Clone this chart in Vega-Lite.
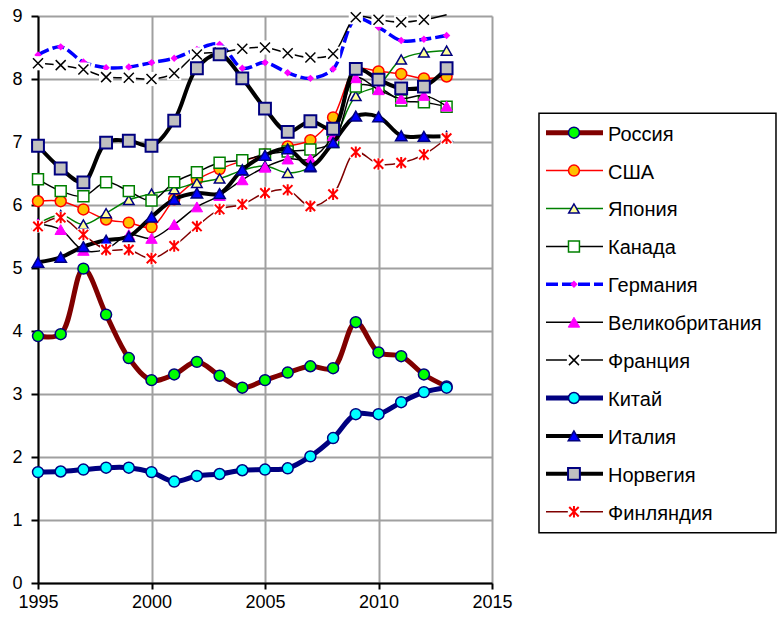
{
  "$schema": "https://vega.github.io/schema/vega-lite/v6.json",
  "padding": {"left": 11, "top": 7, "right": 0, "bottom": 0},
  "background": "white",
  "config": {"font": "Liberation Sans", "view": {"stroke": null}},
  "bounds": "flush",
  "spacing": 45,
  "datasets": {
    "series": [
      {"c":"Россия","year":1995,"v":3.92},{"c":"Россия","year":1996,"v":3.95},{"c":"Россия","year":1997,"v":4.99},{"c":"Россия","year":1998,"v":4.26},{"c":"Россия","year":1999,"v":3.57},{"c":"Россия","year":2000,"v":3.22},{"c":"Россия","year":2001,"v":3.31},{"c":"Россия","year":2002,"v":3.51},{"c":"Россия","year":2003,"v":3.29},{"c":"Россия","year":2004,"v":3.10},{"c":"Россия","year":2005,"v":3.22},{"c":"Россия","year":2006,"v":3.34},{"c":"Россия","year":2007,"v":3.44},{"c":"Россия","year":2008,"v":3.41},{"c":"Россия","year":2009,"v":4.14},{"c":"Россия","year":2010,"v":3.66},{"c":"Россия","year":2011,"v":3.60},{"c":"Россия","year":2012,"v":3.31},{"c":"Россия","year":2013,"v":3.12},
      {"c":"США","year":1995,"v":6.06},{"c":"США","year":1996,"v":6.06},{"c":"США","year":1997,"v":5.93},{"c":"США","year":1998,"v":5.77},{"c":"США","year":1999,"v":5.72},{"c":"США","year":2000,"v":5.65},{"c":"США","year":2001,"v":6.09},{"c":"США","year":2002,"v":6.40},{"c":"США","year":2003,"v":6.57},{"c":"США","year":2004,"v":6.70},{"c":"США","year":2005,"v":6.80},{"c":"США","year":2006,"v":6.93},{"c":"США","year":2007,"v":7.03},{"c":"США","year":2008,"v":7.39},{"c":"США","year":2009,"v":8.15},{"c":"США","year":2010,"v":8.12},{"c":"США","year":2011,"v":8.08},{"c":"США","year":2012,"v":8.01},{"c":"США","year":2013,"v":8.04},
      {"c":"Япония","year":1995,"v":5.70},{"c":"Япония","year":1996,"v":5.84},{"c":"Япония","year":1997,"v":5.69},{"c":"Япония","year":1998,"v":5.87},{"c":"Япония","year":1999,"v":6.08},{"c":"Япония","year":2000,"v":6.18},{"c":"Япония","year":2001,"v":6.25},{"c":"Япония","year":2002,"v":6.35},{"c":"Япония","year":2003,"v":6.42},{"c":"Япония","year":2004,"v":6.55},{"c":"Япония","year":2005,"v":6.62},{"c":"Япония","year":2006,"v":6.51},{"c":"Япония","year":2007,"v":6.60},{"c":"Япония","year":2008,"v":7.00},{"c":"Япония","year":2009,"v":7.73},{"c":"Япония","year":2010,"v":7.90},{"c":"Япония","year":2011,"v":8.31},{"c":"Япония","year":2012,"v":8.42},{"c":"Япония","year":2013,"v":8.45},
      {"c":"Канада","year":1995,"v":6.41},{"c":"Канада","year":1996,"v":6.22},{"c":"Канада","year":1997,"v":6.14},{"c":"Канада","year":1998,"v":6.36},{"c":"Канада","year":1999,"v":6.22},{"c":"Канада","year":2000,"v":6.07},{"c":"Канада","year":2001,"v":6.36},{"c":"Канада","year":2002,"v":6.52},{"c":"Канада","year":2003,"v":6.67},{"c":"Канада","year":2004,"v":6.71},{"c":"Канада","year":2005,"v":6.80},{"c":"Канада","year":2006,"v":6.85},{"c":"Канада","year":2007,"v":6.88},{"c":"Канада","year":2008,"v":7.00},{"c":"Канада","year":2009,"v":7.88},{"c":"Канада","year":2010,"v":7.86},{"c":"Канада","year":2011,"v":7.66},{"c":"Канада","year":2012,"v":7.63},{"c":"Канада","year":2013,"v":7.56},
      {"c":"Германия","year":1995,"v":8.38},{"c":"Германия","year":1996,"v":8.51},{"c":"Германия","year":1997,"v":8.27},{"c":"Германия","year":1998,"v":8.18},{"c":"Германия","year":1999,"v":8.19},{"c":"Германия","year":2000,"v":8.26},{"c":"Германия","year":2001,"v":8.33},{"c":"Германия","year":2002,"v":8.47},{"c":"Германия","year":2003,"v":8.55},{"c":"Германия","year":2004,"v":8.17},{"c":"Германия","year":2005,"v":8.26},{"c":"Германия","year":2006,"v":8.10},{"c":"Германия","year":2007,"v":8.01},{"c":"Германия","year":2008,"v":8.16},{"c":"Германия","year":2009,"v":8.95},{"c":"Германия","year":2010,"v":8.82},{"c":"Германия","year":2011,"v":8.61},{"c":"Германия","year":2012,"v":8.63},{"c":"Германия","year":2013,"v":8.69},
      {"c":"Великобритания","year":1995,"v":5.70},{"c":"Великобритания","year":1996,"v":5.61},{"c":"Великобритания","year":1997,"v":5.28},{"c":"Великобритания","year":1998,"v":5.30},{"c":"Великобритания","year":1999,"v":5.53},{"c":"Великобритания","year":2000,"v":5.47},{"c":"Великобритания","year":2001,"v":5.69},{"c":"Великобритания","year":2002,"v":5.97},{"c":"Великобритания","year":2003,"v":6.15},{"c":"Великобритания","year":2004,"v":6.40},{"c":"Великобритания","year":2005,"v":6.60},{"c":"Великобритания","year":2006,"v":6.73},{"c":"Великобритания","year":2007,"v":6.73},{"c":"Великобритания","year":2008,"v":7.10},{"c":"Великобритания","year":2009,"v":8.02},{"c":"Великобритания","year":2010,"v":7.83},{"c":"Великобритания","year":2011,"v":7.69},{"c":"Великобритания","year":2012,"v":7.74},{"c":"Великобритания","year":2013,"v":7.57},
      {"c":"Франция","year":1995,"v":8.25},{"c":"Франция","year":1996,"v":8.22},{"c":"Франция","year":1997,"v":8.15},{"c":"Франция","year":1998,"v":8.03},{"c":"Франция","year":1999,"v":8.02},{"c":"Франция","year":2000,"v":8.00},{"c":"Франция","year":2001,"v":8.09},{"c":"Франция","year":2002,"v":8.39},{"c":"Франция","year":2003,"v":8.42},{"c":"Франция","year":2004,"v":8.48},{"c":"Франция","year":2005,"v":8.50},{"c":"Франция","year":2006,"v":8.41},{"c":"Франция","year":2007,"v":8.34},{"c":"Франция","year":2008,"v":8.40},{"c":"Франция","year":2009,"v":8.98},{"c":"Франция","year":2010,"v":8.94},{"c":"Франция","year":2011,"v":8.90},{"c":"Франция","year":2012,"v":8.94},{"c":"Франция","year":2013,"v":9.02},
      {"c":"Китай","year":1995,"v":1.76},{"c":"Китай","year":1996,"v":1.77},{"c":"Китай","year":1997,"v":1.80},{"c":"Китай","year":1998,"v":1.83},{"c":"Китай","year":1999,"v":1.83},{"c":"Китай","year":2000,"v":1.76},{"c":"Китай","year":2001,"v":1.61},{"c":"Китай","year":2002,"v":1.70},{"c":"Китай","year":2003,"v":1.73},{"c":"Китай","year":2004,"v":1.79},{"c":"Китай","year":2005,"v":1.80},{"c":"Китай","year":2006,"v":1.82},{"c":"Китай","year":2007,"v":2.01},{"c":"Китай","year":2008,"v":2.30},{"c":"Китай","year":2009,"v":2.68},{"c":"Китай","year":2010,"v":2.68},{"c":"Китай","year":2011,"v":2.87},{"c":"Китай","year":2012,"v":3.03},{"c":"Китай","year":2013,"v":3.10},
      {"c":"Италия","year":1995,"v":5.09},{"c":"Италия","year":1996,"v":5.17},{"c":"Италия","year":1997,"v":5.34},{"c":"Италия","year":1998,"v":5.44},{"c":"Италия","year":1999,"v":5.50},{"c":"Италия","year":2000,"v":5.81},{"c":"Италия","year":2001,"v":6.09},{"c":"Италия","year":2002,"v":6.19},{"c":"Италия","year":2003,"v":6.18},{"c":"Италия","year":2004,"v":6.56},{"c":"Италия","year":2005,"v":6.79},{"c":"Италия","year":2006,"v":6.89},{"c":"Италия","year":2007,"v":6.62},{"c":"Италия","year":2008,"v":6.99},{"c":"Италия","year":2009,"v":7.41},{"c":"Италия","year":2010,"v":7.40},{"c":"Италия","year":2011,"v":7.10},{"c":"Италия","year":2012,"v":7.09},{"c":"Италия","year":2013,"v":7.09},
      {"c":"Норвегия","year":1995,"v":6.94},{"c":"Норвегия","year":1996,"v":6.58},{"c":"Норвегия","year":1997,"v":6.36},{"c":"Норвегия","year":1998,"v":6.99},{"c":"Норвегия","year":1999,"v":7.02},{"c":"Норвегия","year":2000,"v":6.94},{"c":"Норвегия","year":2001,"v":7.34},{"c":"Норвегия","year":2002,"v":8.17},{"c":"Норвегия","year":2003,"v":8.39},{"c":"Норвегия","year":2004,"v":8.01},{"c":"Норвегия","year":2005,"v":7.53},{"c":"Норвегия","year":2006,"v":7.16},{"c":"Норвегия","year":2007,"v":7.33},{"c":"Норвегия","year":2008,"v":7.21},{"c":"Норвегия","year":2009,"v":8.16},{"c":"Норвегия","year":2010,"v":7.99},{"c":"Норвегия","year":2011,"v":7.85},{"c":"Норвегия","year":2012,"v":7.88},{"c":"Норвегия","year":2013,"v":8.17},
      {"c":"Финляндия","year":1995,"v":5.66},{"c":"Финляндия","year":1996,"v":5.80},{"c":"Финляндия","year":1997,"v":5.53},{"c":"Финляндия","year":1998,"v":5.29},{"c":"Финляндия","year":1999,"v":5.29},{"c":"Финляндия","year":2000,"v":5.15},{"c":"Финляндия","year":2001,"v":5.35},{"c":"Финляндия","year":2002,"v":5.66},{"c":"Финляндия","year":2003,"v":5.93},{"c":"Финляндия","year":2004,"v":6.01},{"c":"Финляндия","year":2005,"v":6.19},{"c":"Финляндия","year":2006,"v":6.24},{"c":"Финляндия","year":2007,"v":5.98},{"c":"Финляндия","year":2008,"v":6.17},{"c":"Финляндия","year":2009,"v":6.84},{"c":"Финляндия","year":2010,"v":6.65},{"c":"Финляндия","year":2011,"v":6.67},{"c":"Финляндия","year":2012,"v":6.80},{"c":"Финляндия","year":2013,"v":7.06}
    ],
    "legend": [
      {"c":"Россия","i":1},{"c":"США","i":2},{"c":"Япония","i":3},{"c":"Канада","i":4},{"c":"Германия","i":5},{"c":"Великобритания","i":6},{"c":"Франция","i":7},{"c":"Китай","i":8},{"c":"Италия","i":9},{"c":"Норвегия","i":10},{"c":"Финляндия","i":11}
    ]
  },
  "hconcat": [
    {
      "width": 454,
      "height": 567,
      "data": {"name": "series"},
      "encoding": {
        "x": {"field": "year", "type": "quantitative",
          "scale": {"domain": [1995, 2015], "nice": false, "zero": false},
          "axis": {"values": [1995, 2000, 2005, 2010, 2015], "format": "d", "title": null, "grid": true, "gridColor": "#a0a0a0", "gridWidth": 2,
            "domainColor": "#000000", "domainWidth": 2, "tickColor": "#000000", "tickWidth": 2, "tickSize": 6,
            "labelFontSize": 18, "labelColor": "#000000", "labelPadding": 4, "labelFlush": false, "labelOverlap": false}},
        "y": {"field": "v", "type": "quantitative",
          "scale": {"domain": [0, 9], "nice": false},
          "axis": {"values": [0, 0.5, 1, 1.5, 2, 2.5, 3, 3.5, 4, 4.5, 5, 5.5, 6, 6.5, 7, 7.5, 8, 8.5, 9], "format": "d",
            "labelExpr": "datum.value % 1 === 0 ? datum.label : ''", "title": null, "grid": true, "gridColor": "#a0a0a0", "gridWidth": 2,
            "domainColor": "#000000", "domainWidth": 2, "tickColor": "#000000", "tickWidth": 2, "tickSize": 7,
            "labelFontSize": 18, "labelColor": "#000000", "labelPadding": 9, "labelFlush": false, "labelOverlap": false}}
      },
      "layer": [
        {"transform": [{"filter": {"field": "c", "equal": "Россия"}}], "layer": [
          {"mark": {"type": "line", "interpolate": "catmull-rom", "color": "#800000", "strokeWidth": 5, "strokeJoin": "round"}},
          {"mark": {"type": "point", "shape": "circle", "size": 120, "filled": true, "fill": "#00ff00", "stroke": "#000080", "strokeWidth": 1.5, "opacity": 1}}]},
        {"transform": [{"filter": {"field": "c", "equal": "США"}}], "layer": [
          {"mark": {"type": "line", "interpolate": "catmull-rom", "color": "#ff0000", "strokeWidth": 1.5}},
          {"mark": {"type": "point", "shape": "circle", "size": 120, "filled": true, "fill": "#ffc000", "stroke": "#ff0000", "strokeWidth": 1.5, "opacity": 1}}]},
        {"transform": [{"filter": {"field": "c", "equal": "Япония"}}], "layer": [
          {"mark": {"type": "line", "interpolate": "catmull-rom", "color": "#008000", "strokeWidth": 1.5}},
          {"mark": {"type": "point", "shape": "triangle-up", "size": 110, "filled": true, "fill": "#ffff99", "stroke": "#000080", "strokeWidth": 1.5, "opacity": 1}}]},
        {"transform": [{"filter": {"field": "c", "equal": "Канада"}}], "layer": [
          {"mark": {"type": "line", "interpolate": "catmull-rom", "color": "#000000", "strokeWidth": 1.5}},
          {"mark": {"type": "point", "shape": "square", "size": 120, "filled": true, "fill": "#ffffff", "stroke": "#008000", "strokeWidth": 1.5, "opacity": 1}}]},
        {"transform": [{"filter": {"field": "c", "equal": "Германия"}}], "layer": [
          {"mark": {"type": "line", "interpolate": "catmull-rom", "color": "#0000ff", "strokeWidth": 3.5, "strokeDash": [12, 4]}},
          {"mark": {"type": "point", "shape": "diamond", "size": 55, "filled": true, "fill": "#ff00ff", "strokeWidth": 0, "opacity": 1}}]},
        {"transform": [{"filter": {"field": "c", "equal": "Великобритания"}}], "layer": [
          {"mark": {"type": "line", "interpolate": "catmull-rom", "color": "#000000", "strokeWidth": 1.5}},
          {"mark": {"type": "point", "shape": "triangle-up", "size": 130, "filled": true, "fill": "#ff00ff", "stroke": "#ff00ff", "strokeWidth": 1, "opacity": 1}}]},
        {"transform": [{"filter": {"field": "c", "equal": "Франция"}}], "layer": [
          {"mark": {"type": "line", "interpolate": "catmull-rom", "color": "#000000", "strokeWidth": 1.5}},
          {"transform": [{"filter": "datum.v <= 9"}], "mark": {"type": "point", "shape": "square", "size": 200, "filled": true, "fill": "#ffffff", "strokeWidth": 0, "opacity": 1}},
          {"transform": [{"filter": "datum.v <= 9"}], "mark": {"type": "point", "shape": "M-1,-1L1,1M-1,1L1,-1", "size": 100, "filled": false, "stroke": "#000000", "strokeWidth": 1.5, "opacity": 1}}]},
        {"transform": [{"filter": {"field": "c", "equal": "Китай"}}], "layer": [
          {"mark": {"type": "line", "interpolate": "catmull-rom", "color": "#000080", "strokeWidth": 5, "strokeJoin": "round"}},
          {"mark": {"type": "point", "shape": "circle", "size": 120, "filled": true, "fill": "#00ffff", "stroke": "#000080", "strokeWidth": 1.5, "opacity": 1}}]},
        {"transform": [{"filter": {"field": "c", "equal": "Италия"}}], "layer": [
          {"mark": {"type": "line", "interpolate": "catmull-rom", "color": "#000000", "strokeWidth": 4, "strokeJoin": "round"}},
          {"mark": {"type": "point", "shape": "triangle-up", "size": 130, "filled": true, "fill": "#0000ff", "stroke": "#000080", "strokeWidth": 1.5, "opacity": 1}}]},
        {"transform": [{"filter": {"field": "c", "equal": "Норвегия"}}], "layer": [
          {"mark": {"type": "line", "interpolate": "catmull-rom", "color": "#000000", "strokeWidth": 4, "strokeJoin": "round"}},
          {"mark": {"type": "point", "shape": "square", "size": 140, "filled": true, "fill": "#c0c0c0", "stroke": "#000080", "strokeWidth": 2, "opacity": 1}}]},
        {"transform": [{"filter": {"field": "c", "equal": "Финляндия"}}], "layer": [
          {"mark": {"type": "line", "interpolate": "catmull-rom", "color": "#800000", "strokeWidth": 1.5}},
          {"mark": {"type": "point", "shape": "square", "size": 150, "filled": true, "fill": "#ffffff", "strokeWidth": 0, "opacity": 1}},
          {"mark": {"type": "point", "shape": "M-1,-1L1,1M-1,1L1,-1M0,-1.2L0,1.2", "size": 90, "filled": false, "stroke": "#ff0000", "strokeWidth": 2, "opacity": 1}}]}
      ]
    },
    {
      "width": 240,
      "height": 567,
      "data": {"name": "legend"},
      "encoding": {
        "y": {"field": "i", "type": "quantitative", "scale": {"domain": [-2.079, 12.881], "reverse": true, "nice": false, "zero": false}, "axis": null}
      },
      "layer": [
        {"transform": [{"filter": "datum.i == 1"}],
         "mark": {"type": "rect", "fill": "#ffffff", "stroke": "#000000", "strokeWidth": 1.5},
         "encoding": {
           "x": {"datum": 0.0083, "type": "quantitative", "scale": {"domain": [0, 1], "nice": false, "zero": false}, "axis": null},
           "x2": {"datum": 0.9958},
           "y": {"datum": 0.488, "type": "quantitative"},
           "y2": {"datum": 11.554}}},
        {"transform": [{"filter": {"field": "c", "equal": "Россия"}}], "layer": [
          {"mark": {"type": "rule", "color": "#800000", "strokeWidth": 5}, "encoding": {"x": {"datum": 0.0375, "type": "quantitative"}, "x2": {"datum": 0.275}}},
          {"mark": {"type": "point", "shape": "circle", "size": 120, "filled": true, "fill": "#00ff00", "stroke": "#000080", "strokeWidth": 1.5, "opacity": 1}, "encoding": {"x": {"datum": 0.154, "type": "quantitative"}}}]},
        {"transform": [{"filter": {"field": "c", "equal": "США"}}], "layer": [
          {"mark": {"type": "rule", "color": "#ff0000", "strokeWidth": 1.5}, "encoding": {"x": {"datum": 0.0375, "type": "quantitative"}, "x2": {"datum": 0.275}}},
          {"mark": {"type": "point", "shape": "circle", "size": 120, "filled": true, "fill": "#ffc000", "stroke": "#ff0000", "strokeWidth": 1.5, "opacity": 1}, "encoding": {"x": {"datum": 0.154, "type": "quantitative"}}}]},
        {"transform": [{"filter": {"field": "c", "equal": "Япония"}}], "layer": [
          {"mark": {"type": "rule", "color": "#008000", "strokeWidth": 1.5}, "encoding": {"x": {"datum": 0.0375, "type": "quantitative"}, "x2": {"datum": 0.275}}},
          {"mark": {"type": "point", "shape": "triangle-up", "size": 110, "filled": true, "fill": "#ffff99", "stroke": "#000080", "strokeWidth": 1.5, "opacity": 1}, "encoding": {"x": {"datum": 0.154, "type": "quantitative"}}}]},
        {"transform": [{"filter": {"field": "c", "equal": "Канада"}}], "layer": [
          {"mark": {"type": "rule", "color": "#000000", "strokeWidth": 1.5}, "encoding": {"x": {"datum": 0.0375, "type": "quantitative"}, "x2": {"datum": 0.275}}},
          {"mark": {"type": "point", "shape": "square", "size": 120, "filled": true, "fill": "#ffffff", "stroke": "#008000", "strokeWidth": 1.5, "opacity": 1}, "encoding": {"x": {"datum": 0.154, "type": "quantitative"}}}]},
        {"transform": [{"filter": {"field": "c", "equal": "Германия"}}], "layer": [
          {"mark": {"type": "rule", "color": "#0000ff", "strokeWidth": 3.5, "strokeDash": [12, 4]}, "encoding": {"x": {"datum": 0.0375, "type": "quantitative"}, "x2": {"datum": 0.275}}},
          {"mark": {"type": "point", "shape": "diamond", "size": 55, "filled": true, "fill": "#ff00ff", "strokeWidth": 0, "opacity": 1}, "encoding": {"x": {"datum": 0.154, "type": "quantitative"}}}]},
        {"transform": [{"filter": {"field": "c", "equal": "Великобритания"}}], "layer": [
          {"mark": {"type": "rule", "color": "#000000", "strokeWidth": 1.5}, "encoding": {"x": {"datum": 0.0375, "type": "quantitative"}, "x2": {"datum": 0.275}}},
          {"mark": {"type": "point", "shape": "triangle-up", "size": 130, "filled": true, "fill": "#ff00ff", "stroke": "#ff00ff", "strokeWidth": 1, "opacity": 1}, "encoding": {"x": {"datum": 0.154, "type": "quantitative"}}}]},
        {"transform": [{"filter": {"field": "c", "equal": "Франция"}}], "layer": [
          {"mark": {"type": "rule", "color": "#000000", "strokeWidth": 1.5}, "encoding": {"x": {"datum": 0.0375, "type": "quantitative"}, "x2": {"datum": 0.275}}},
          {"mark": {"type": "point", "shape": "square", "size": 200, "filled": true, "fill": "#ffffff", "strokeWidth": 0, "opacity": 1}, "encoding": {"x": {"datum": 0.154, "type": "quantitative"}}},
          {"mark": {"type": "point", "shape": "M-1,-1L1,1M-1,1L1,-1", "size": 100, "filled": false, "stroke": "#000000", "strokeWidth": 1.5, "opacity": 1}, "encoding": {"x": {"datum": 0.154, "type": "quantitative"}}}]},
        {"transform": [{"filter": {"field": "c", "equal": "Китай"}}], "layer": [
          {"mark": {"type": "rule", "color": "#000080", "strokeWidth": 5}, "encoding": {"x": {"datum": 0.0375, "type": "quantitative"}, "x2": {"datum": 0.275}}},
          {"mark": {"type": "point", "shape": "circle", "size": 120, "filled": true, "fill": "#00ffff", "stroke": "#000080", "strokeWidth": 1.5, "opacity": 1}, "encoding": {"x": {"datum": 0.154, "type": "quantitative"}}}]},
        {"transform": [{"filter": {"field": "c", "equal": "Италия"}}], "layer": [
          {"mark": {"type": "rule", "color": "#000000", "strokeWidth": 4}, "encoding": {"x": {"datum": 0.0375, "type": "quantitative"}, "x2": {"datum": 0.275}}},
          {"mark": {"type": "point", "shape": "triangle-up", "size": 130, "filled": true, "fill": "#0000ff", "stroke": "#000080", "strokeWidth": 1.5, "opacity": 1}, "encoding": {"x": {"datum": 0.154, "type": "quantitative"}}}]},
        {"transform": [{"filter": {"field": "c", "equal": "Норвегия"}}], "layer": [
          {"mark": {"type": "rule", "color": "#000000", "strokeWidth": 4}, "encoding": {"x": {"datum": 0.0375, "type": "quantitative"}, "x2": {"datum": 0.275}}},
          {"mark": {"type": "point", "shape": "square", "size": 140, "filled": true, "fill": "#c0c0c0", "stroke": "#000080", "strokeWidth": 2, "opacity": 1}, "encoding": {"x": {"datum": 0.154, "type": "quantitative"}}}]},
        {"transform": [{"filter": {"field": "c", "equal": "Финляндия"}}], "layer": [
          {"mark": {"type": "rule", "color": "#800000", "strokeWidth": 1.5}, "encoding": {"x": {"datum": 0.0375, "type": "quantitative"}, "x2": {"datum": 0.275}}},
          {"mark": {"type": "point", "shape": "square", "size": 150, "filled": true, "fill": "#ffffff", "strokeWidth": 0, "opacity": 1}, "encoding": {"x": {"datum": 0.154, "type": "quantitative"}}},
          {"mark": {"type": "point", "shape": "M-1,-1L1,1M-1,1L1,-1M0,-1.2L0,1.2", "size": 90, "filled": false, "stroke": "#ff0000", "strokeWidth": 2, "opacity": 1}, "encoding": {"x": {"datum": 0.154, "type": "quantitative"}}}]},
        {"mark": {"type": "text", "align": "left", "baseline": "middle", "fontSize": 20, "color": "#000000", "dy": 2},
         "encoding": {"x": {"datum": 0.296, "type": "quantitative"}, "text": {"field": "c"}}}
      ]
    }
  ]
}
